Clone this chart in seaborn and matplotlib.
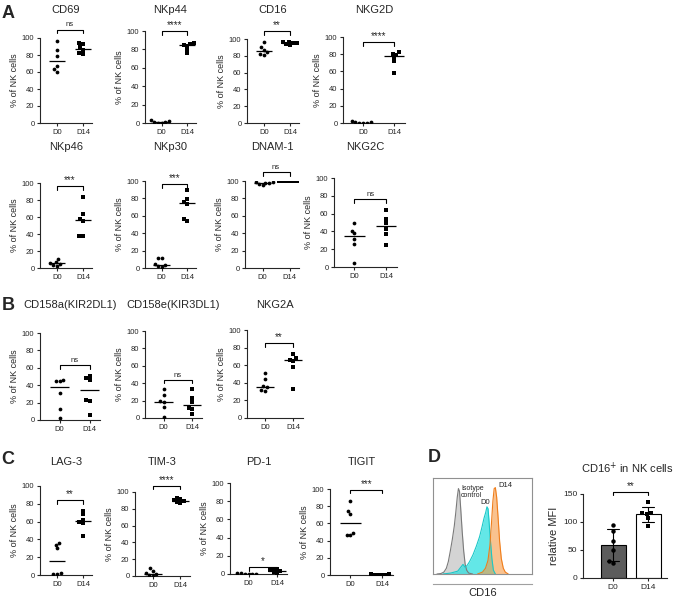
import matplotlib
matplotlib.use("Agg")
import matplotlib.pyplot as plt
import pandas as pd
import seaborn as sns
import numpy as np

sns.set_style("ticks")
plt.rcParams['font.family'] = ['Liberation Sans', 'DejaVu Sans']

days = ["D0", "D14"]

# % of NK cells, 6 donors per day
cd69_d0 = [97, 86, 79, 67, 63, 60]
cd69_d14 = [94, 93, 89, 86, 82, 81]
nkp44_d0 = [0, 1, 2, 0, 1, 3]
nkp44_d14 = [87, 86, 84, 85, 80, 76]
cd16_d0 = [97, 90, 87, 84, 82, 81]
cd16_d14 = [97, 96, 95, 95, 94, 93]
nkg2d_d0 = [0, 1, 0, 1, 2, 0]
nkg2d_d14 = [82, 80, 79, 76, 72, 58]
nkp46_d0 = [11, 7, 6, 5, 3, 2]
nkp46_d14 = [84, 64, 58, 55, 38, 38]
nkp30_d0 = [12, 11, 5, 3, 2, 1]
nkp30_d14 = [90, 79, 76, 74, 56, 54]
dnam1_d0 = [99, 98, 98, 97, 99, 95]
dnam1_d14 = [100, 100, 100, 99.5, 100, 100]
nkg2c_d0 = [49, 41, 38, 32, 26, 4]
nkg2c_d14 = [64, 54, 49, 43, 37, 25]
kir2dl1_d0 = [46, 45, 45, 31, 13, 2]
kir2dl1_d14 = [51, 48, 46, 23, 22, 6]
kir3dl1_d0 = [33, 27, 19, 18, 13, 1]
kir3dl1_d14 = [33, 23, 18, 12, 10, 5]
nkg2a_d0 = [51, 44, 36, 35, 32, 31]
nkg2a_d14 = [73, 68, 66, 65, 58, 33]
lag3_d0 = [36, 34, 30, 2, 1, 1]
lag3_d14 = [72, 68, 62, 59, 58, 44]
tim3_d0 = [9, 6, 3, 2, 1, 0]
tim3_d14 = [93, 92, 90, 89, 88, 87]
pd1_d0 = [0.5, 1, 0, 0.5, 1, 0]
pd1_d14 = [6, 5, 4, 3, 2, 1]
tigit_d0 = [86, 74, 71, 49, 47, 46]
tigit_d14 = [1, 0.5, 0, 1, 0.5, 0]

# relative MFI of CD16
mfi_d0 = [95, 84, 66, 50, 31, 26]
mfi_d14 = [136, 116, 116, 114, 107, 93]

# CD16 histogram traces (channel position 0-100, height % of max)
iso_x = [4, 8, 11, 13.5, 15.5, 17.5, 19.5, 21.5, 23, 24.5, 25.7, 26.8, 28, 29.5, 31, 32.5, 34, 36, 40]
iso_h = [0, 0.5, 2, 6, 13, 24, 36, 50, 64, 80, 89, 86, 68, 44, 24, 10, 4, 1, 0]
d0_x = [10, 18, 25, 28, 30.3, 32.5, 34.5, 37, 40.4, 43.8, 47.1, 49.5, 51.5, 53.2, 54.5, 55.6, 56.6, 58, 59.5, 61, 63]
d0_h = [0, 1, 3, 7, 10, 7, 9, 13, 20, 29, 39, 49, 58, 64, 70, 68, 55, 35, 16, 4, 0]
d14_x = [45, 50, 53, 55.5, 57.5, 59, 60.5, 61.8, 63, 64.3, 65.8, 67.3, 69, 71, 73, 76]
d14_h = [0, 2, 6, 14, 30, 52, 76, 89, 90, 80, 58, 34, 16, 6, 2, 0]

W, H = 676, 601
fig = plt.figure(figsize=(W / 100, H / 100), dpi=100)


def rect(l, t, r, b):
    return [l / W, 1 - b / H, (r - l) / W, (b - t) / H]


def style_axis(ax):
    sns.despine(ax=ax)
    for s in ["left", "bottom"]:
        ax.spines[s].set_linewidth(0.8)
    ax.tick_params(labelsize=5.5, length=2.5, width=0.8, pad=1.5)


def bracket(ax, y, text, dy, fs):
    ax.plot([0, 0, 1, 1], [y - dy, y, y, y - dy], color="black", lw=0.8, clip_on=False)
    ax.text(0.5, y + dy * 0.3, text, ha="center", va="bottom", fontsize=fs, clip_on=False)


def dot_panel(box, title, title_y, d0, d14, sig, sig_y):
    ax = fig.add_axes(rect(*box))
    df = pd.DataFrame({"day": ["D0"] * len(d0) + ["D14"] * len(d14),
                       "pct": d0 + d14})
    sns.swarmplot(data=df[df.day == "D0"], x="day", y="pct", order=days,
                  marker="o", size=2.7, color="black", ax=ax)
    sns.swarmplot(data=df[df.day == "D14"], x="day", y="pct", order=days,
                  marker="s", size=2.5, color="black", ax=ax)
    med = df.groupby("day")["pct"].median()
    for i, d in enumerate(days):
        ax.hlines(med[d], i - 0.32, i + 0.32, color="black", lw=0.9)
    ax.set_xlim(-0.65, 1.35)
    ax.set_ylim(0, 100)
    ax.set_yticks([0, 20, 40, 60, 80, 100])
    ax.set_xlabel("")
    ax.set_ylabel("% of NK cells", fontsize=6.5, labelpad=2)
    style_axis(ax)
    fs = 5.5 if sig == "ns" else 7
    bracket(ax, sig_y, sig, 4, fs)
    cx = (box[0] + box[2]) / 2
    fig.text(cx / W, 1 - title_y / H, title, ha="center", va="center", fontsize=8)
    return ax


# panel A
dot_panel((40, 38, 92, 123), "CD69", 10, cd69_d0, cd69_d14, "ns", 110)
dot_panel((145, 31, 196, 123), "NKp44", 10, nkp44_d0, nkp44_d14, "****", 100)
dot_panel((247, 39, 299, 123), "CD16", 10, cd16_d0, cd16_d14, "**", 109)
dot_panel((343, 37, 405, 123), "NKG2D", 10, nkg2d_d0, nkg2d_d14, "****", 94)
dot_panel((40, 183, 92, 268), "NKp46", 147, nkp46_d0, nkp46_d14, "***", 96)
dot_panel((145, 181, 196, 268), "NKp30", 147, nkp30_d0, nkp30_d14, "***", 96)
dot_panel((245, 181, 299, 268), "DNAM-1", 147, dnam1_d0, dnam1_d14, "ns", 110)
dot_panel((334, 178, 397, 267), "NKG2C", 147, nkg2c_d0, nkg2c_d14, "ns", 76)

# panel B
dot_panel((40, 333, 100, 420), "CD158a(KIR2DL1)", 305, kir2dl1_d0, kir2dl1_d14, "ns", 63)
dot_panel((145, 331, 202, 418), "CD158e(KIR3DL1)", 305, kir3dl1_d0, kir3dl1_d14, "ns", 44)
dot_panel((247, 330, 303, 418), "NKG2A", 305, nkg2a_d0, nkg2a_d14, "**", 85)

# panel C
dot_panel((40, 486, 92, 575), "LAG-3", 462, lag3_d0, lag3_d14, "**", 84)
dot_panel((135, 492, 190, 576), "TIM-3", 462, tim3_d0, tim3_d14, "****", 107)
dot_panel((230, 483, 287, 574), "PD-1", 462, pd1_d0, pd1_d14, "*", 7.5)
dot_panel((330, 489, 393, 575), "TIGIT", 462, tigit_d0, tigit_d14, "***", 99)

# panel D histogram
axh = fig.add_axes(rect(433, 478, 532, 574))
axh.fill_between(iso_x, iso_h, color="#d4d4d4", lw=0)
axh.plot(iso_x, iso_h, color="#7a7a7a", lw=0.8)
axh.fill_between(d0_x, d0_h, color="#2fe0e0", alpha=0.75, lw=0)
axh.plot(d0_x, d0_h, color="#19c8c8", lw=0.8)
axh.fill_between(d14_x, d14_h, color="#f59a45", alpha=0.6, lw=0)
axh.plot(d14_x, d14_h, color="#f07d1a", lw=0.8)
axh.set_xlim(0, 100)
axh.set_ylim(0, 100)
axh.set_xticks([])
axh.set_yticks([])
for s in axh.spines.values():
    s.set_color("#909090")
    s.set_linewidth(0.8)
axh.text(28.5, 93, "Isotype\ncontrol", fontsize=5, va="top", ha="left", linespacing=1.1)
axh.text(47.5, 71, "D0", fontsize=5.5, va="bottom", ha="left")
axh.text(66, 89, "D14", fontsize=5.5, va="bottom", ha="left")

axx = fig.add_axes(rect(433, 583, 532, 584))
axx.set_xticks([])
axx.set_yticks([])
for s in ["top", "left", "right"]:
    axx.spines[s].set_visible(False)
axx.spines["bottom"].set_color("#a0a0a0")
axx.spines["bottom"].set_linewidth(0.8)
axx.patch.set_alpha(0)
fig.text(483 / W, 1 - 593 / H, "CD16", ha="center", va="center", fontsize=8)

# panel D bars
axb = fig.add_axes(rect(583, 494, 667, 578))
mfi = pd.DataFrame({"day": ["D0"] * len(mfi_d0) + ["D14"] * len(mfi_d14),
                    "mfi": mfi_d0 + mfi_d14})
sns.barplot(data=mfi, x="day", y="mfi", order=days, errorbar="sd",
            palette=["#5c5c5c", "white"], hue="day", legend=False,
            width=0.71, edgecolor="black", linewidth=0.8,
            capsize=0.35, err_kws={"color": "black", "linewidth": 0.8}, ax=axb)
sns.swarmplot(data=mfi[mfi.day == "D0"], x="day", y="mfi", order=days,
              marker="o", size=3.2, color="black", ax=axb)
sns.swarmplot(data=mfi[mfi.day == "D14"], x="day", y="mfi", order=days,
              marker="s", size=3.0, color="black", ax=axb)
axb.set_xlim(-0.86, 1.54)
axb.set_ylim(0, 150)
axb.set_yticks([0, 50, 100, 150])
axb.set_xlabel("")
axb.set_ylabel("relative MFI", fontsize=8, labelpad=3)
style_axis(axb)
axb.tick_params(labelsize=6)
bracket(axb, 154, "**", 6, 7)
fig.text(627 / W, 1 - 468 / H, "CD16$^{+}$ in NK cells", ha="center", va="center", fontsize=8)

# panel letters
for letter, x, y in [("A", 8, 13), ("B", 8, 305), ("C", 8, 459), ("D", 434, 458)]:
    fig.text(x / W, 1 - y / H, letter, ha="center", va="center", fontsize=13, fontweight="bold")

fig.savefig("out.png", dpi=100)
